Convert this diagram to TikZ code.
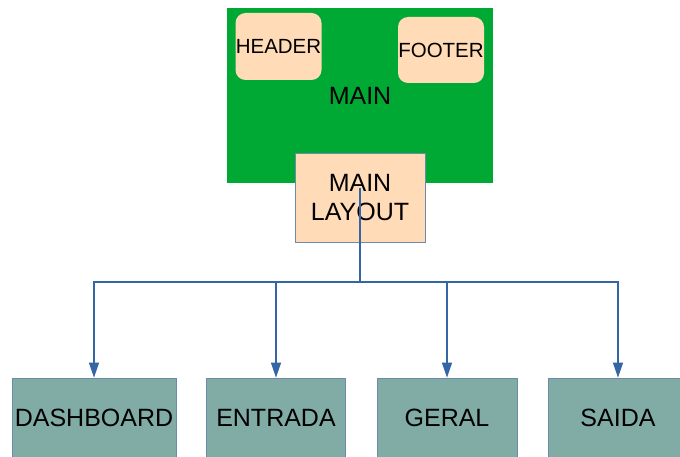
\documentclass[tikz,border=0pt]{standalone}
\usepackage{fontspec}
\setmainfont{Liberation Sans}
\usetikzlibrary{arrows.meta}
\definecolor{mgreen}{HTML}{00A933}
\definecolor{peach}{HTML}{FFDBB7}
\definecolor{tealbox}{HTML}{81ACA6}
\definecolor{conncol}{HTML}{3465A4}
\definecolor{edgecol}{HTML}{6B8BA8}
\tikzset{
  greenbox/.style={fill=mgreen, draw=none, inner sep=0pt, font=\fontsize{25}{30}\selectfont},
  softbox/.style={fill=peach, draw=none, rounded corners=10pt, inner sep=0pt, font=\fontsize{20.5}{24}\selectfont},
  layoutbox/.style={fill=peach, draw=edgecol, line width=0.8pt, inner sep=0pt, align=center, font=\fontsize{25}{29}\selectfont},
  pagebox/.style={fill=tealbox, draw=edgecol, line width=0.8pt, inner sep=0pt, minimum height=80pt, font=\fontsize{25}{30}\selectfont},
  conn/.style={draw=conncol, line width=1.2pt},
  arr/.style={conn, -{Triangle[length=15pt,width=10pt]}}
}
\begin{document}
\begin{tikzpicture}[x=1pt,y=-1pt]
\clip (0,0) rectangle (680,457);
\fill[white] (0,0) rectangle (680,457);
\node[greenbox, minimum width=266pt, minimum height=175pt] (main) at (360,95.5) {MAIN};
\node[softbox, minimum width=86pt, minimum height=67pt] (header) at (278.5,46.5) {HEADER};
\node[softbox, minimum width=86pt, minimum height=66pt] (footer) at (441,50) {FOOTER};
\node[layoutbox, minimum width=130pt, minimum height=89pt] (layout) at (360,197.5) {MAIN\\LAYOUT};
\node[pagebox, minimum width=164pt] (dash) at (94,418) {DASHBOARD};
\node[pagebox, minimum width=139pt] (entrada) at (276,418) {ENTRADA};
\node[pagebox, minimum width=140pt] (geral) at (447,418) {GERAL};
\node[pagebox, minimum width=140pt] (saida) at (618,418) {SAIDA};
\coordinate (j) at (360,282);
\draw[conn] ([yshift=9.5pt]layout.center) -- (j);
\draw[arr] (j) -| (dash.north);
\draw[arr] (j) -| (entrada.north);
\draw[arr] (j) -| (geral.north);
\draw[arr] (j) -| (saida.north);
\end{tikzpicture}
\end{document}
